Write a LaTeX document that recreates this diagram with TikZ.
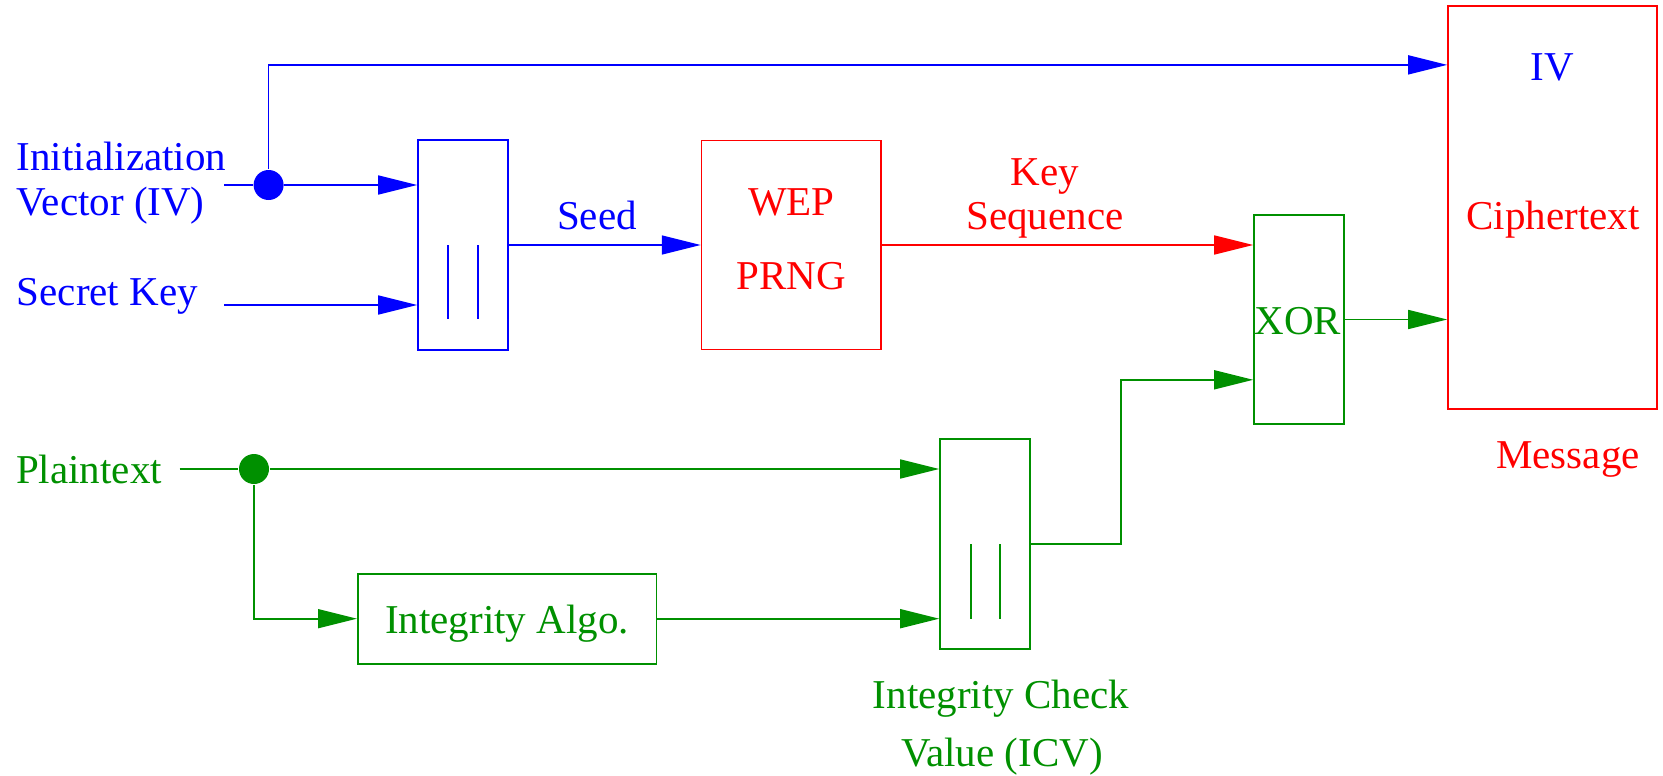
\documentclass[tikz,border=0pt]{standalone}
\usepackage{fontspec}
\setmainfont{Liberation Serif}
\usetikzlibrary{arrows.meta,calc}
\definecolor{fblue}{RGB}{0,0,255}
\definecolor{fred}{RGB}{255,0,0}
\definecolor{fgreen}{RGB}{0,144,0}
\begin{document}
\begin{tikzpicture}[x=1pt,y=-1pt, line width=1.6pt,
  box/.style={draw, rectangle, inner sep=0pt, line width=1.6pt},
  txt/.style={anchor=base, inner sep=0pt, font=\fontsize{41}{45}\selectfont},
  ltxt/.style={txt, anchor=base west},
  arr/.style={-{Triangle[length=39pt,width=19pt]}},
  dotn/.style={circle, fill, draw=none, inner sep=0pt, minimum size=30pt}]
\useasboundingbox (0,0) rectangle (1663,776);

% ---------- boxes ----------
\node[box, fblue, minimum width=90pt, minimum height=210pt] (cat1) at (463,245) {};
\node[box, fred, minimum width=179.4pt, minimum height=209pt] (wep) at (791.3,245) {};
\node[box, fred, minimum width=209pt, minimum height=403pt] (ctx) at (1552.5,207.5) {};
\node[box, fgreen, minimum width=90pt, minimum height=209pt] (xor) at (1299,319.5) {};
\node[box, fgreen, minimum width=298.8pt, minimum height=90pt] (algo) at (507.2,618.7) {};
\node[box, fgreen, minimum width=90pt, minimum height=209.7pt] (cat2) at (985,544) {};

% concatenation marks
\draw[fblue] (448,245) -- (448,319);
\draw[fblue] (478,245) -- (478,319);
\draw[fgreen] (971,544) -- (971,618.7);
\draw[fgreen] (1000,544) -- (1000,618.7);

% ---------- texts ----------
\node[ltxt, fblue] (iv1) at (16,170) {Initialization};
\node[ltxt, fblue] (iv2) at (16,215) {Vector (IV)};
\node[ltxt, fblue] (sk) at (16,305) {Secret Key};
\node[txt, fblue] (seed) at (597,229) {Seed};
\node[txt, fred] (wept) at (791.3,215) {WEP};
\node[txt, fred] (prng) at (791.3,289) {PRNG};
\node[txt, fred] (key1) at (1045,185) {Key};
\node[txt, fred] (key2) at (1045,229) {Sequence};
\node[txt, fblue] (ivt) at (1552.5,81) {IV};
\node[txt, fred] (ct) at (1553,229) {Ciphertext};
\node[txt, fred] (msg) at (1568,468) {Message};
\node[txt, fgreen] (xort) at (1298,334) {XOR};
\node[ltxt, fgreen] (pt) at (15.4,483) {Plaintext};
\node[txt, fgreen] (algot) at (507,633) {Integrity Algo.};
\node[txt, fgreen] (icv1) at (1001,708) {Integrity Check};
\node[txt, fgreen] (icv2) at (1002,766) {Value (ICV)};

% ---------- blue connectors ----------
\coordinate (ivin) at (224,185);
\node[dotn, fblue] (ivdot) at (268.6,185) {};
\draw[fblue] (ivin) -- (ivdot);
\draw[fblue, arr] (ivdot) -- (cat1.west |- ivdot);
\path (ctx.north west) ++(0,59.7) coordinate (ivto);
\draw[fblue, arr] (ivdot) |- (ivto);
\coordinate (skin) at (224,305);
\draw[fblue, arr] (skin) -- (cat1.west |- skin);
\draw[fblue, arr] (cat1.east) -- (wep.west);

% ---------- red connector ----------
\draw[fred, arr] (wep.east) -- (xor.west |- wep.east);

% ---------- green connectors ----------
\coordinate (ptin) at (179.6,469);
\node[dotn, fgreen] (ptdot) at (254,469) {};
\draw[fgreen] (ptin) -- (ptdot);
\draw[fgreen, arr] (ptdot) -- (cat2.west |- ptdot);
\draw[fgreen, arr] (ptdot) |- (algo.west);
\draw[fgreen, arr] (algo.east) -- (cat2.west |- algo.east);
\path (xor.south west) ++(0,-45) coordinate (xorin2);
\draw[fgreen, arr] (cat2.east) -- ++(90,0) |- (xorin2);
\draw[fgreen, arr] (xor.east) -- (ctx.west |- xor.east);
\end{tikzpicture}
\end{document}
